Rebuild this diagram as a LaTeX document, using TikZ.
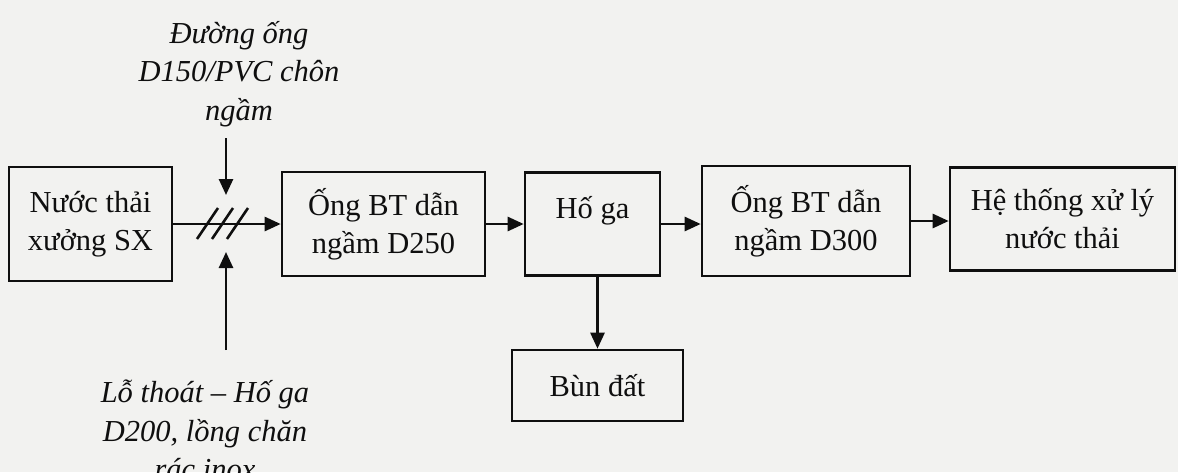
\documentclass[tikz,border=0pt]{standalone}
\usepackage{fontspec}
\setmainfont{Liberation Serif}
\usetikzlibrary{arrows.meta,calc}
\definecolor{bg}{RGB}{242,242,240}
\definecolor{ink}{RGB}{15,15,15}
\tikzset{
  box/.style={draw=ink,line width=2.6pt,inner sep=0pt,align=center,
    font=\fontsize{30.5pt}{38pt}\selectfont,text=ink},
  lab/.style={align=center,font=\fontsize{30.5pt}{38.5pt}\selectfont\itshape,text=ink},
  arr/.style={draw=ink,line width=2.6pt,-{Triangle[length=16pt,width=14pt]}},
  hatch/.style={draw=ink,line width=2.6pt},
}
\begin{document}
\begin{tikzpicture}[x=1pt,y=-1pt]
\fill[bg] (0,0) rectangle (1178,472);
\useasboundingbox (0,0) rectangle (1178,472);
\node[box,minimum width=163pt,minimum height=114pt] (b1) at (90.5,224) {Nước thải\\xưởng SX};
\node[box,minimum width=203pt,minimum height=104pt] (b2) at (383.5,224) {Ống BT dẫn\\ngầm D250};
\node[box,minimum width=135pt,minimum height=103pt] (b3) at (592.5,224) {Hố ga\\[-16pt]\strut};
\node[box,minimum width=171pt,minimum height=71pt] (bun) at (597.5,385.5) {Bùn đất};
\node[box,minimum width=208pt,minimum height=110pt] (b4) at (806,221) {Ống BT dẫn\\ngầm D300};
\node[box,minimum width=225pt,minimum height=103pt] (b5) at (1062.5,219) {Hệ thống xử lý\\nước thải};
\node[lab] (top) at (239,74) {Đường ống\\D150/PVC chôn\\ngầm};
\node[lab] (bot) at (205,430) {Lỗ thoát – Hố ga\\D200, lồng chăn\\rác inox};
\coordinate (h) at (222,224);
\coordinate (t1) at (226,138);
\coordinate (t2) at (226,195);
\coordinate (u1) at (226,350);
\coordinate (u2) at (226,252);
\draw[arr] (b1.east) -- (b2.west);
\draw[arr] (b2.east) -- (b3.west);
\draw[arr] (b3.east) -- (b4.west |- b3.east);
\draw[arr] (b4.east) -- (b5.west |- b4.east);
\draw[arr] (b3.south -| bun.north) -- (bun.north);
\draw[arr] (t1) -- (t2);
\draw[arr] (u1) -- (u2);
\draw[hatch] ([shift={(-25,15)}]h) -- ++(21,-31);
\draw[hatch] ([shift={(-10,15)}]h) -- ++(21,-31);
\draw[hatch] ([shift={(5,15)}]h) -- ++(21,-31);
\end{tikzpicture}
\end{document}
